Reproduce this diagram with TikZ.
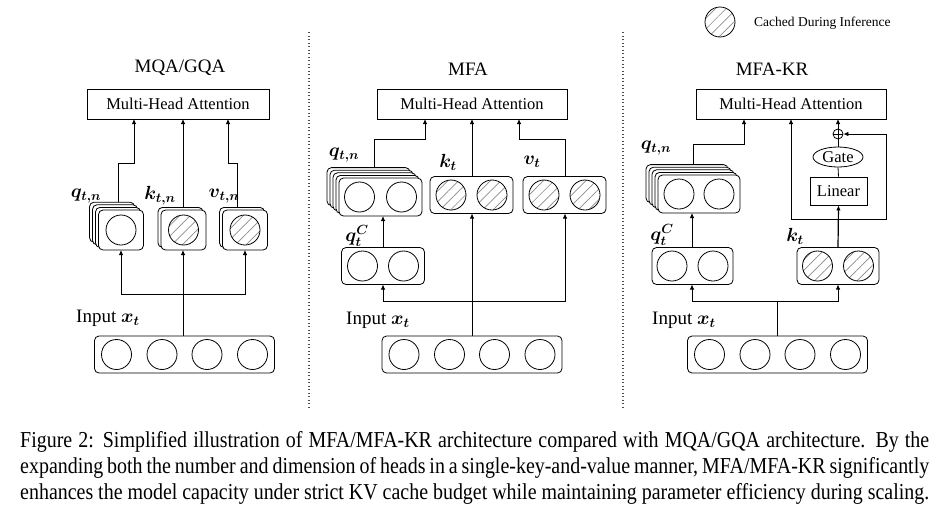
\RequirePackage{fix-cm}
\documentclass[tikz,border=0pt]{standalone}
\usepackage{amsmath}
\usepackage{bm}
\usepackage{graphicx}
\usepackage{fontspec}
\setmainfont{Liberation Serif}
\usetikzlibrary{arrows.meta,patterns.meta,shapes.geometric,calc}
\tikzset{
  ln/.style={line width=0.8pt},
  arr/.style={ln,-{Latex[length=5pt,width=4.5pt]}},
  mhabox/.style={draw,ln,fill=white,minimum height=30pt,inner sep=0pt,font=\fontsize{16.5}{18}\selectfont},
  cardst/.style={draw,ln,fill=white,rounded corners=4.5pt},
  cardnode/.style={draw,ln,fill=white,rounded corners=4.5pt,inner sep=0pt},
  cir/.style={draw,ln,circle,minimum size=30pt,inner sep=0pt},
  hcir/.style={cir,pattern={Lines[angle=45,distance=7.5pt,line width=0.7pt]},pattern color=black!45},
  ttl/.style={font=\fontsize{19}{22}\selectfont,inner sep=0pt},
  lbl/.style={font=\fontsize{19}{22}\selectfont,inner sep=0pt},
  sep/.style={line width=1.1pt,black!70,dash pattern=on 1.1pt off 2.4pt},
}
% #1 name, #2 cx, #3 cy, #4 w, #5 h, #6 number of back cards
\newcommand\stackcard[6]{%
  \foreach \i in {#6,...,1}{%
    \draw[cardst] ({#2-#4/2-3*\i},{#3-#5/2-2.6*\i}) rectangle ++(#4,#5);}%
  \node[cardnode,minimum width=#4pt,minimum height=#5pt] (#1) at (#2,#3) {};}
\newcommand\plaincard[5]{%
  \node[cardnode,minimum width=#4pt,minimum height=#5pt] (#1) at (#2,#3) {};}
\newcommand\capline[1]{\scalebox{0.875}[1]{\makebox[1038.9pt][s]{#1}}}
\begin{document}
\begin{tikzpicture}[x=1pt,y=-1pt]
\useasboundingbox (0,0) rectangle (949,512);

% separators
\draw[sep] (309,32) -- (309,408);
\draw[sep] (623,32) -- (623,408);

% legend
\node[hcir] (leg) at (720,22) {};
\node[anchor=west,inner sep=0pt,font=\fontsize{13.5}{15}\selectfont] (legt) at (754,23) {Cached During Inference};

% ================= MQA/GQA =================
\node[ttl] (t1) at (180,68) {MQA/GQA};
\node[mhabox,minimum width=182pt] (mha1) at (178,104) {Multi-Head Attention};
\coordinate (m1q) at (134,119);
\coordinate (m1k) at (183,119);
\coordinate (m1v) at (228,119);
\draw[arr] (118,225) -- (118,163) -| (m1q);
\draw[arr] (183,225) -- (m1k);
\draw[arr] (237,225) -- (237,163) -| (m1v);
\stackcard{q1}{121}{230}{45}{40}{3}
\stackcard{k1}{183.5}{230}{45}{40}{1}
\stackcard{v1}{245}{230}{45}{40}{1}
\node[cir] (q1c) at (q1) {};
\node[hcir] (k1c) at (k1) {};
\node[hcir] (v1c) at (v1) {};
\node[lbl] (q1l) at (86,196) {$\bm{q_{t,n}}$};
\node[lbl] (k1l) at (160,196) {$\bm{k_{t,n}}$};
\node[lbl] (v1l) at (224,196) {$\bm{v_{t,n}}$};

\node[cardnode,minimum width=180pt,minimum height=37pt] (in1) at (184.5,354.5) {};
\foreach \d/\n in {-68/a,-22.5/b,22.5/c,68/d}{\node[cir] (in1\n) at ({184.5+\d},354.5) {};}
\node[lbl,anchor=west] (in1l) at (76,318) {Input $\bm{x_t}$};
\coordinate (s1) at (183,294);
\draw[arr] (183,336) -- (183,250);
\draw[arr] (s1) -| (121,250);
\draw[arr] (s1) -| (245,250);

% ================= MFA =================
\node[ttl] (t2) at (468,69) {MFA};
\node[mhabox,minimum width=190pt] (mha2) at (472,104) {Multi-Head Attention};
\coordinate (m2q) at (425,119);
\coordinate (m2k) at (472,119);
\coordinate (m2v) at (519,119);
\draw[arr] (374,195) -- (374,139) -| (m2q);
\draw[arr] (472,190) -- (m2k);
\draw[arr] (565,190) -- (565,139) -| (m2v);
\stackcard{q2}{380.5}{197}{83}{38}{4}
\plaincard{k2}{471.5}{195}{83}{37}
\plaincard{v2}{564.5}{195}{83}{37}
\plaincard{qc2}{383}{266}{83}{37}
\node[cir] at ($(q2)+(-21,0)$) {};
\node[cir] at ($(q2)+(21,0)$) {};
\node[hcir] at ($(k2)+(-20.5,0)$) {};
\node[hcir] at ($(k2)+(20.5,0)$) {};
\node[hcir] at ($(v2)+(-20.5,0)$) {};
\node[hcir] at ($(v2)+(20.5,0)$) {};
\node[cir] at ($(qc2)+(-20.5,0)$) {};
\node[cir] at ($(qc2)+(20.5,0)$) {};
\node[lbl] (q2l) at (344,155) {$\bm{q_{t,n}}$};
\node[lbl] (k2l) at (448,162) {$\bm{k_t}$};
\node[lbl] (v2l) at (532,162) {$\bm{v_t}$};
\node[lbl] (qc2l) at (357,236) {$\bm{q_t^C}$};
\draw[arr] (383,247.5) -- (383,216);

\node[cardnode,minimum width=180pt,minimum height=37pt] (in2) at (472,354.5) {};
\foreach \d/\n in {-68/a,-22.5/b,22.5/c,68/d}{\node[cir] (in2\n) at ({472+\d},354.5) {};}
\node[lbl,anchor=west] (in2l) at (346,320) {Input $\bm{x_t}$};
\coordinate (s2) at (472,301);
\draw[arr] (472,336) -- (472,213.5);
\draw[arr] (s2) -| (383,284.5);
\draw[arr] (s2) -| (565,213.5);

% ================= MFA-KR =================
\node[ttl] (t3) at (772,69) {MFA-KR};
\node[mhabox,minimum width=190pt] (mha3) at (791,104) {Multi-Head Attention};
\coordinate (m3q) at (744,119);
\coordinate (m3k) at (791,119);
\coordinate (m3g) at (838,119);
\draw[arr] (693,192) -- (693,144) -| (m3q);
\stackcard{q3}{699}{194}{82}{38}{4}
\plaincard{qc3}{692.5}{266}{81}{37}
\plaincard{k3}{838}{266}{82}{37}
\node[cir] at ($(q3)+(-20,0)$) {};
\node[cir] at ($(q3)+(20,0)$) {};
\node[cir] at ($(qc3)+(-20.5,0)$) {};
\node[cir] at ($(qc3)+(20.5,0)$) {};
\node[hcir] at ($(k3)+(-20.5,0)$) {};
\node[hcir] at ($(k3)+(20.5,0)$) {};
\node[lbl] (q3l) at (656,148) {$\bm{q_{t,n}}$};
\node[lbl] (qc3l) at (662,235) {$\bm{q_t^C}$};
\node[lbl] (k3l) at (795,236) {$\bm{k_t}$};
\draw[arr] (692,247.5) -- (692,213);

\node[draw,ln,minimum width=57pt,minimum height=28pt,inner sep=0pt,font=\fontsize{16.5}{18}\selectfont] (lin) at (838.5,191) {Linear};
\node[draw,ln,ellipse,minimum width=50pt,minimum height=20pt,inner sep=0pt,font=\fontsize{16.5}{18}\selectfont] (gate) at (838,157) {Gate};
\node[draw,ln,circle,minimum size=10pt,inner sep=0pt] (plus) at (838,134) {};
\draw[ln] (plus.north) -- (plus.south) (plus.west) -- (plus.east);
\coordinate (br) at (838,219);
\draw[arr,line width=1.2pt] (k3.north) -- (lin.south);
\draw[arr] (br) -| (m3k);
\draw[arr] (br) -| (886,134) -- (plus.east);
\draw[ln] (lin.north) -- (gate.south);
\draw[ln] (gate.north) -- (plus.south);
\draw[arr] (plus.north) -- (m3g);

\node[cardnode,minimum width=180pt,minimum height=37pt] (in3) at (777.5,354.5) {};
\foreach \d/\n in {-68/a,-22.5/b,22.5/c,68/d}{\node[cir] (in3\n) at ({777.5+\d},354.5) {};}
\node[lbl,anchor=west] (in3l) at (652,320) {Input $\bm{x_t}$};
\coordinate (s3) at (777,301);
\draw[ln] (777,336) -- (s3);
\draw[arr] (s3) -| (692,284.5);
\draw[arr] (s3) -| (838,284.5);

% ================= caption =================
\begin{scope}[every node/.style={anchor=base west,inner sep=0pt,font=\fontsize{22.8}{26}\selectfont}]
\node (cap1) at (20,447) {\capline{Figure 2: Simplified illustration of MFA/MFA-KR architecture compared with MQA/GQA architecture. By the}};
\node (cap2) at (20,473) {\capline{expanding both the number and dimension of heads in a single-key-and-value manner, MFA/MFA-KR significantly}};
\node (cap3) at (20,499) {\capline{enhances the model capacity under strict KV cache budget while maintaining parameter efficiency during scaling.}};
\end{scope}
\end{tikzpicture}
\end{document}
